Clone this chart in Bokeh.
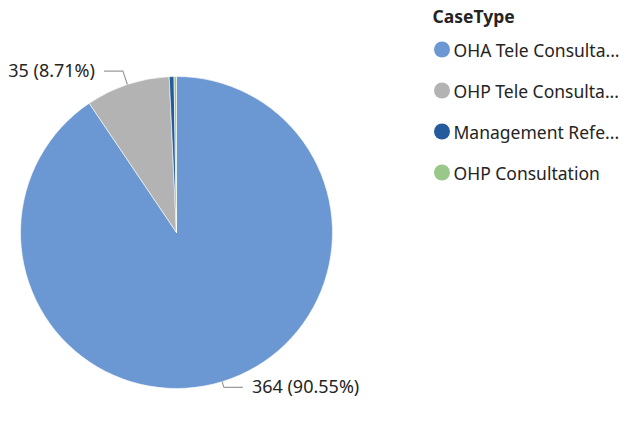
import numpy as np
from bokeh.plotting import figure
from bokeh.models import Range1d, ColumnDataSource
from bokeh.core.properties import value
from bokeh.embed import file_html
from bokeh.resources import INLINE

# ---- data ----
case_types = ["OHA Tele Consultation", "OHP Tele Consultation", "Management Referral", "OHP Consultation"]
legend_labels = ["OHA Tele Consulta...", "OHP Tele Consulta...", "Management Refe...", "OHP Consultation"]
counts = [364, 35, 2, 1]
colors = ["#6B98D2", "#B3B3B3", "#245B9C", "#9AC78A"]
legend_title = "CaseType"

W, H = 625, 406
FONT = "Segoe UI, Noto Sans"
TXT = "#252423"

p = figure(width=W, height=H, x_range=Range1d(0, W), y_range=Range1d(0, H),
           x_axis_type=None, y_axis_type=None, toolbar_location=None,
           output_backend="svg", min_border=0)
p.outline_line_color = None
p.grid.visible = False
p.background_fill_color = "white"
p.border_fill_color = "white"

def X(ix):
    return ix
def Y(iy):
    return H - iy

cx, cy, r = X(176), Y(232), 156

vals = np.array(counts, dtype=float)
frac = vals / vals.sum()
cum_end = np.cumsum(frac)
cum_start = cum_end - frac
# clockwise from 12 o'clock
start_angle = np.pi / 2 - cum_end * 2 * np.pi
end_angle = np.pi / 2 - cum_start * 2 * np.pi

src = ColumnDataSource(dict(start=start_angle, end=end_angle, color=colors, name=case_types))
p.wedge(x=cx, y=cy, radius=r, start_angle="start", end_angle="end",
        fill_color="color", line_color="white", line_width=0.6, source=src)

# data labels with leader lines for the two largest slices
for i, side in [(0, 1), (1, -1)]:
    mid = (start_angle[i] + end_angle[i]) / 2
    ex, ey = cx + r * np.cos(mid), cy + r * np.sin(mid)
    ext = 14 if i == 1 else 6
    bx, by = cx + (r + ext) * np.cos(mid), cy + (r + ext) * np.sin(mid)
    hx = bx + side * 19
    p.line([ex, bx, hx], [ey, by, by], line_color="#9A9A9A", line_width=1.2)
    label = f"{counts[i]} ({frac[i]*100:.2f}%)"
    p.text(x=[hx + side * 9], y=[by + 1], text=[label],
           text_align="left" if side > 0 else "right", text_baseline="middle",
           text_font=value(FONT), text_font_size="18px", text_color=TXT)

# legend
p.text(x=[X(432)], y=[Y(15)], text=[legend_title], text_baseline="middle",
       text_font=value(FONT), text_font_size="17.5px", text_font_style="bold", text_color=TXT)
leg_y = [49, 90, 131, 172]
for lab, col, ly in zip(legend_labels, colors, leg_y):
    p.scatter(x=[X(441.5)], y=[Y(ly)], size=16, marker="circle", fill_color=col, line_color=None)
    p.text(x=[X(453)], y=[Y(ly)], text=[lab], text_baseline="middle",
           text_font=value(FONT), text_font_size="17.5px", text_color=TXT)

open("out.html", "w").write(file_html(p, INLINE))
